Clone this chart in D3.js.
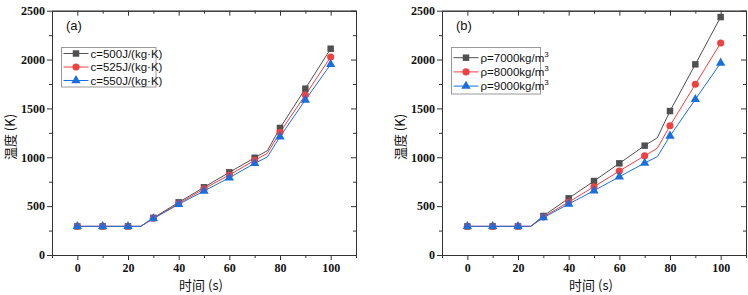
<!DOCTYPE html>
<html><head><meta charset="utf-8">
<script src="https://cdn.jsdelivr.net/npm/d3@7"></script>
<style>body{margin:0;background:#fff}svg{display:block}
.tk text{font-family:"Liberation Serif","Times New Roman",serif !important;font-size:12px;font-weight:bold}</style>
</head><body>
<svg id="c" width="748" height="295"></svg>
<script>
const times = [0,10,20,25,30,40,50,60,70,75,80,90,100];
const markedTimes = [0,10,20,30,40,50,60,70,80,90,100];
const xTicks = [0,20,40,60,80,100];
const yTicks = [0,500,1000,1500,2000,2500];
// Panel (a): specific heat
const aNames = ["c=500J/(kg·K)","c=525J/(kg·K)","c=550J/(kg·K)"];
const a500 = [293,293,293,293,380,539,693,846,995,1067,1300,1702,2111];
const a525 = [293,293,293,293,376,527,677,819,969,1040,1255,1637,2026];
const a550 = [293,293,293,293,372,519,655,791,938,1003,1210,1586,1951];
// Panel (b): density
const bNames = ["ρ=7000kg/m","ρ=8000kg/m","ρ=9000kg/m"];
const b7000 = [293,293,293,293,399,580,757,938,1119,1200,1473,1951,2435];
const b8000 = [293,293,293,293,389,542,699,859,1016,1092,1323,1747,2169];
const b9000 = [293,293,293,293,382,522,658,801,941,1006,1218,1593,1965];

const colors = ["#505050","#F14040","#1A6FDF"];
const shapes = [d3.symbolSquare, d3.symbolCircle, d3.symbolTriangle];
const sizes = [42, 40, 38];

const svg = d3.select("#c");

function panel(opt){
  const g = svg.append("g");
  const x = d3.scaleLinear().domain([-10,110]).range([opt.x0, opt.x1]);
  const y = d3.scaleLinear().domain([0,2500]).range([255, 10.7]);
  const axisColor = "#333";
  const fmt = d3.format("d");
  const xMinor = [-10,10,30,50,70,90,110];
  const yMinor = [250,750,1250,1750,2250];
  const bottom = g.append("g").attr("class","tk").attr("transform","translate(0,255)")
    .call(d3.axisBottom(x).tickValues(xTicks).tickFormat(fmt).tickSize(5).tickSizeOuter(0));
  g.append("g").attr("transform","translate(0,255)")
    .call(d3.axisBottom(x).tickValues(xMinor).tickSize(3).tickFormat("").tickSizeOuter(0));
  const left = g.append("g").attr("class","tk").attr("transform",`translate(${opt.x0},0)`)
    .call(d3.axisLeft(y).tickValues(yTicks).tickFormat(fmt).tickSize(5).tickSizeOuter(0));
  g.append("g").attr("transform",`translate(${opt.x0},0)`)
    .call(d3.axisLeft(y).tickValues(yMinor).tickSize(3).tickFormat("").tickSizeOuter(0));
  g.append("g").attr("transform","translate(0,10.7)")
    .call(d3.axisBottom(x).tickValues(xTicks).tickSize(5).tickFormat("").tickSizeOuter(0));
  g.append("g").attr("transform","translate(0,10.7)")
    .call(d3.axisBottom(x).tickValues(xMinor).tickSize(3).tickFormat("").tickSizeOuter(0));
  g.append("g").attr("transform",`translate(${opt.x1},0)`)
    .call(d3.axisLeft(y).tickValues(yTicks).tickSize(5).tickFormat("").tickSizeOuter(0));
  g.append("g").attr("transform",`translate(${opt.x1},0)`)
    .call(d3.axisLeft(y).tickValues(yMinor).tickSize(3).tickFormat("").tickSizeOuter(0));
  g.selectAll(".domain, .tick line").attr("stroke",axisColor).attr("stroke-width",1);
  g.selectAll(".tk").attr("font-family","Liberation Serif").attr("font-size",12);
  g.selectAll(".tk .tick text").attr("fill","#111");
  bottom.selectAll(".tick text").attr("dy","0.95em").attr("y",6);
  left.selectAll(".tick text").attr("x",-7);

  // lines
  const line = d3.line().x((d,i)=>x(times[i])).y(d=>y(d));
  opt.series.forEach((s,k)=>{
    g.append("path").datum(s).attr("d",line).attr("fill","none")
      .attr("stroke",colors[k]).attr("stroke-width",1);
  });
  opt.series.forEach((s,k)=>{
    const pts = s.map((v,i)=>({t:times[i],v})).filter(p=>markedTimes.includes(p.t));
    g.selectAll(null).data(pts).enter().append("path")
      .attr("d",d3.symbol().type(shapes[k]).size(sizes[k]))
      .attr("transform",p=>`translate(${x(p.t)},${y(p.v)})`)
      .attr("fill",colors[k]);
  });

  // panel label
  g.append("text").attr("x",opt.x0+14).attr("y",30).text(opt.label)
    .style("font-family","'Liberation Sans',Arial,sans-serif").style("font-size","13px").attr("fill","#111");

  // legend
  const lg = g.append("g");
  lg.append("rect").attr("x",opt.lx).attr("y",47.5).attr("width",opt.lw).attr("height",opt.lh)
    .attr("fill","#fff").attr("stroke","#999").attr("stroke-width",1);
  opt.names.forEach((n,k)=>{
    const yy = opt.ly0 + k*opt.ldy;
    lg.append("line").attr("x1",opt.lx+2).attr("x2",opt.lx+27).attr("y1",yy).attr("y2",yy)
      .attr("stroke",colors[k]).attr("stroke-width",1);
    lg.append("path").attr("d",d3.symbol().type(shapes[k]).size(sizes[k]))
      .attr("transform",`translate(${opt.lx+14.5},${yy})`).attr("fill",colors[k]);
    const t = lg.append("text").attr("x",opt.lx+29).attr("y",yy+4)
      .style("font-family","'Liberation Sans',Arial,sans-serif").style("font-size","11.5px").attr("fill","#111");
    t.append("tspan").text(n);
    if(opt.sup) t.append("tspan").attr("dy",-5).style("font-size","8px").text("3");
  });

  // axis titles
  g.append("text").attr("x",(opt.x0+opt.x1)/2 - 3).attr("y",290).attr("text-anchor","middle")
    .style("font-family","'Noto Sans CJK SC',serif").style("font-size","13px").attr("fill","#111")
    .text("时间 (s)");
  g.append("text").attr("transform",`translate(${opt.x0-37},137) rotate(-90)`).attr("text-anchor","middle")
    .style("font-family","'Noto Sans CJK SC',serif").style("font-size","13px").attr("fill","#111")
    .text("温度 (K)");
}

panel({x0:52, x1:356, label:"(a)", series:[a500,a525,a550], names:aNames, sup:false,
  lx:61.5, lw:94.5, lh:39.5, ly0:53.5, ldy:13.5});
panel({x0:442, x1:746, label:"(b)", series:[b7000,b8000,b9000], names:bNames, sup:true,
  lx:451.5, lw:89, lh:46.5, ly0:57.7, ldy:14.2});
</script>
</body></html>
